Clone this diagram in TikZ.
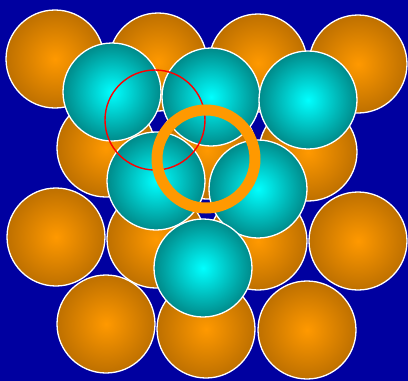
\documentclass[tikz,border=0pt]{standalone}
\begin{document}
\begin{tikzpicture}[x=1pt,y=-1pt,
  ball/.style={circle,minimum size=98pt,inner sep=0pt,draw=white,line width=1.3pt},
  orangeball/.style={ball,inner color=orangeC,outer color=orangeE},
  cyanball/.style={ball,inner color=cyan,outer color=cyanE}]
\definecolor{bg}{RGB}{0,0,160}
\definecolor{orangeC}{RGB}{255,153,0}
\definecolor{orangeE}{RGB}{190,112,0}
\definecolor{cyanE}{RGB}{0,138,138}
\definecolor{ringC}{RGB}{255,153,0}
\fill[bg] (0,0) rectangle (408,381);
\useasboundingbox (0,0) rectangle (408,381);
% bottom layer
\node[orangeball] (o1) at (55,59) {};
\node[orangeball] (o2) at (158,62) {};
\node[orangeball] (o3) at (258,63) {};
\node[orangeball] (o4) at (358,64) {};
\node[orangeball] (o5) at (106,148) {};
\node[orangeball] (o6) at (207,150) {};
\node[orangeball] (o7) at (308,152) {};
\node[orangeball] (o8) at (56,237) {};
\node[orangeball] (o9) at (156,239) {};
\node[orangeball] (o10) at (258,241) {};
\node[orangeball] (o11) at (358,241) {};
\node[orangeball] (o12) at (106,324) {};
\node[orangeball] (o13) at (206,329) {};
\node[orangeball] (o14) at (307,330) {};
% top layer
\node[cyanball] (c1) at (112,92) {};
\node[cyanball] (c2) at (211,97) {};
\node[cyanball] (c3) at (308,100) {};
\node[cyanball] (c4) at (156,181) {};
\node[cyanball] (c5) at (258,189) {};
\node[cyanball] (c6) at (203,268) {};
% markers
\node[circle,minimum size=100pt,inner sep=0pt,draw=red,line width=1.4pt] (red) at (155,120) {};
\node[circle,minimum size=98pt,inner sep=0pt,draw=ringC,line width=11pt] (ring) at (206,159) {};
\end{tikzpicture}
\end{document}
